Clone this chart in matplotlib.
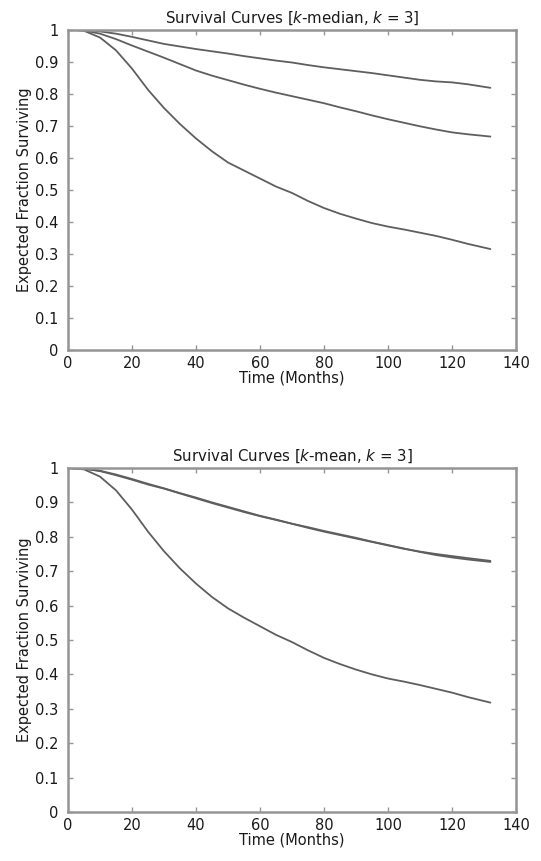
import matplotlib
matplotlib.use("Agg")
import matplotlib.pyplot as plt
import numpy as np

# ---- data ----
months = [0, 5, 10, 15, 20, 25, 30, 35, 40, 45, 50, 55, 60, 65, 70, 75, 80,
          85, 90, 95, 100, 105, 110, 115, 120, 125, 132]

# k-median, k = 3
kmed_high = [1.0, 0.999, 0.994, 0.987, 0.977, 0.966, 0.955, 0.947, 0.939, 0.932,
             0.925, 0.917, 0.910, 0.903, 0.897, 0.889, 0.882, 0.876, 0.870, 0.864,
             0.857, 0.850, 0.843, 0.838, 0.835, 0.829, 0.818]
kmed_mid = [1.0, 0.997, 0.987, 0.970, 0.950, 0.931, 0.912, 0.892, 0.872, 0.856,
            0.842, 0.828, 0.815, 0.803, 0.792, 0.781, 0.770, 0.757, 0.745, 0.732,
            0.720, 0.709, 0.698, 0.688, 0.679, 0.673, 0.666]
kmed_low = [1.0, 0.996, 0.975, 0.935, 0.878, 0.812, 0.755, 0.705, 0.660, 0.620,
            0.585, 0.560, 0.535, 0.510, 0.490, 0.465, 0.443, 0.425, 0.410, 0.396,
            0.385, 0.376, 0.366, 0.356, 0.344, 0.331, 0.315]

# k-mean, k = 3
kmean_high_a = [1.0, 0.998, 0.991, 0.979, 0.966, 0.952, 0.940, 0.926, 0.912, 0.898,
                0.885, 0.872, 0.860, 0.849, 0.838, 0.826, 0.815, 0.805, 0.795, 0.785,
                0.775, 0.765, 0.757, 0.750, 0.744, 0.738, 0.730]
kmean_high_b = [1.0, 0.998, 0.992, 0.981, 0.968, 0.954, 0.941, 0.927, 0.914, 0.900,
                0.887, 0.874, 0.861, 0.850, 0.838, 0.828, 0.817, 0.807, 0.797, 0.786,
                0.776, 0.766, 0.756, 0.747, 0.740, 0.734, 0.727]
kmean_low = [1.0, 0.996, 0.975, 0.935, 0.879, 0.815, 0.758, 0.708, 0.664, 0.625,
             0.592, 0.565, 0.540, 0.515, 0.494, 0.470, 0.448, 0.430, 0.414, 0.400,
             0.388, 0.379, 0.369, 0.358, 0.347, 0.334, 0.318]

x_ticks = [0, 20, 40, 60, 80, 100, 120, 140]
y_ticks = [0, 0.1, 0.2, 0.3, 0.4, 0.5, 0.6, 0.7, 0.8, 0.9, 1]
y_ticklabels = ["0", "0.1", "0.2", "0.3", "0.4", "0.5", "0.6", "0.7", "0.8", "0.9", "1"]

titles = ["Survival Curves [$k$-median, $k$ = 3]", "Survival Curves [$k$-mean, $k$ = 3]"]
xlabel = "Time (Months)"
ylabel = "Expected Fraction Surviving"

plt.rcParams['font.family'] = ['DejaVu Sans']
plt.rcParams['mathtext.fontset'] = 'custom'
plt.rcParams['mathtext.it'] = 'DejaVu Sans:italic'
plt.rcParams['mathtext.rm'] = 'DejaVu Sans'

fig = plt.figure(figsize=(5.41, 8.61), dpi=100)
ax1 = fig.add_axes([68/541, (861-350)/861, 448/541, 320.5/861])
ax2 = fig.add_axes([68/541, (861-812)/861, 448/541, 344/861])

line_color = "#5e5e5e"
spine_color = "#959595"
text_color = "#1a1a1a"

for ax, title, series in [(ax1, titles[0], [kmed_high, kmed_mid, kmed_low]),
                          (ax2, titles[1], [kmean_high_a, kmean_high_b, kmean_low])]:
    for s in series:
        ax.plot(months, s, color=line_color, lw=1.3, solid_capstyle='round')
    ax.set_xlim(0, 140)
    ax.set_ylim(0, 1)
    ax.set_xticks(x_ticks)
    ax.set_xticklabels([str(t) for t in x_ticks])
    ax.set_yticks(y_ticks)
    ax.set_yticklabels(y_ticklabels)
    ax.tick_params(direction='in', length=3.5, width=1, color=spine_color,
                   top=True, right=True, labelsize=10.5, labelcolor=text_color)
    ax.tick_params(axis='y', pad=7)
    ax.tick_params(axis='x', pad=4)
    for sp in ax.spines.values():
        sp.set_color(spine_color)
        sp.set_linewidth(1.8)
    ax.set_title(title, fontsize=10.8, pad=5, color=text_color)
    ax.set_xlabel(xlabel, fontsize=10.5, labelpad=0, color=text_color)
    ax.set_ylabel(ylabel, fontsize=10.5, labelpad=2, color=text_color)

fig.savefig("out.png", dpi=100, facecolor='white')
